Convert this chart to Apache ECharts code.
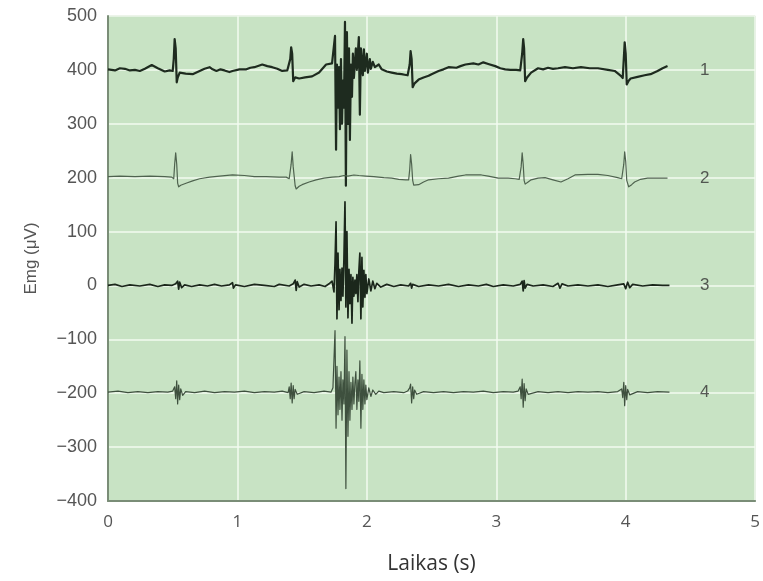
<!DOCTYPE html>
<html>
<head>
<meta charset="utf-8">
<script src="https://cdn.jsdelivr.net/npm/echarts@6/dist/echarts.min.js"></script>
<style>
  html, body { margin: 0; padding: 0; background: #ffffff; }
  #chart { width: 763px; height: 581px; }
</style>
</head>
<body>
<div id="chart"></div>
<script>
// EMG recordings, four channels: [time (s), amplitude (µV)]
const trace1 = [[0.000,401],[0.054,399],[0.092,403],[0.131,402],[0.169,399],[0.208,400],[0.246,398],[0.285,402],[0.338,409],[0.385,403],[0.438,397],[0.477,399],[0.500,398],[0.508,420],[0.515,457],[0.523,440],[0.531,377],[0.538,385],[0.554,395],[0.600,393],[0.654,392],[0.708,398],[0.746,402],[0.785,405],[0.808,401],[0.838,398],[0.869,401],[0.900,399],[0.938,396],[0.962,398],[1.015,401],[1.069,401],[1.100,404],[1.131,405],[1.192,410],[1.231,407],[1.269,405],[1.308,402],[1.346,398],[1.385,399],[1.400,400],[1.408,420],[1.415,442],[1.423,430],[1.431,379],[1.446,386],[1.477,384],[1.523,386],[1.577,388],[1.631,395],[1.685,410],[1.731,412],[1.746,415],[1.754,463],[1.762,252],[1.769,410],[1.777,330],[1.785,405],[1.792,290],[1.800,420],[1.808,300],[1.815,380],[1.823,330],[1.831,489],[1.838,185],[1.846,470],[1.854,300],[1.862,440],[1.869,270],[1.877,410],[1.885,350],[1.892,430],[1.900,385],[1.915,440],[1.923,400],[1.938,461],[1.946,317],[1.954,440],[1.969,390],[1.977,438],[1.985,398],[2.000,430],[2.008,395],[2.023,420],[2.031,402],[2.046,415],[2.062,405],[2.092,410],[2.115,401],[2.154,397],[2.192,395],[2.231,393],[2.269,392],[2.292,391],[2.315,390],[2.331,410],[2.338,435],[2.346,420],[2.354,368],[2.369,375],[2.400,382],[2.438,386],[2.477,389],[2.500,392],[2.554,398],[2.592,401],[2.631,405],[2.692,404],[2.723,407],[2.762,410],[2.823,412],[2.862,410],[2.900,414],[2.938,411],[2.992,407],[3.031,403],[3.069,401],[3.108,400],[3.154,400],[3.185,399],[3.200,430],[3.208,457],[3.215,440],[3.223,379],[3.238,386],[3.269,395],[3.323,403],[3.362,401],[3.400,404],[3.438,402],[3.477,403],[3.531,405],[3.592,403],[3.654,405],[3.723,403],[3.785,403],[3.862,400],[3.915,398],[3.946,392],[3.962,389],[3.977,385],[3.985,420],[3.992,451],[4.000,430],[4.008,373],[4.023,380],[4.038,384],[4.092,387],[4.146,390],[4.192,392],[4.246,398],[4.285,403],[4.323,407]];

const trace2 = [[0.000,202],[0.092,203],[0.208,202],[0.323,203],[0.438,202],[0.492,201],[0.508,198],[0.515,225],[0.523,246],[0.531,225],[0.538,190],[0.546,183],[0.562,186],[0.608,190],[0.654,194],[0.708,198],[0.785,201],[0.862,203],[0.962,205],[1.054,204],[1.131,202],[1.223,202],[1.323,201],[1.377,201],[1.400,198],[1.415,225],[1.423,248],[1.431,220],[1.446,185],[1.454,179],[1.477,184],[1.500,187],[1.554,192],[1.608,196],[1.669,199],[1.731,201],[1.785,202],[1.823,204],[1.838,206],[1.854,203],[1.900,205],[1.938,204],[1.992,203],[2.054,202],[2.131,200],[2.192,199],[2.246,197],[2.300,196],[2.323,196],[2.331,215],[2.338,243],[2.346,225],[2.354,195],[2.362,186],[2.377,183],[2.400,187],[2.438,192],[2.477,196],[2.554,198],[2.631,199],[2.708,203],[2.762,205],[2.823,205],[2.885,205],[2.938,203],[3.015,199],[3.092,199],[3.146,198],[3.177,197],[3.192,220],[3.200,246],[3.208,225],[3.215,195],[3.223,188],[3.246,192],[3.269,196],[3.323,199],[3.377,200],[3.438,196],[3.500,192],[3.554,198],[3.608,205],[3.708,206],[3.785,206],[3.862,204],[3.938,200],[3.969,198],[3.985,225],[3.992,248],[4.000,230],[4.008,195],[4.023,183],[4.046,187],[4.069,192],[4.115,197],[4.169,199],[4.246,199],[4.323,199]];

const trace3 = [[0.000,0],[0.054,2],[0.108,-2],[0.169,1],[0.246,-1],[0.323,2],[0.385,-2],[0.438,1],[0.492,0],[0.523,3],[0.538,8],[0.546,-7],[0.554,6],[0.569,-4],[0.592,1],[0.646,-2],[0.708,1],[0.769,-1],[0.823,2],[0.877,-1],[0.938,1],[0.962,5],[0.969,-5],[0.985,1],[1.054,-2],[1.131,2],[1.208,0],[1.285,-2],[1.323,2],[1.400,-1],[1.431,3],[1.446,10],[1.454,-9],[1.462,7],[1.477,-3],[1.515,2],[1.569,-1],[1.631,1],[1.677,-2],[1.708,3],[1.731,8],[1.746,-12],[1.754,40],[1.762,118],[1.769,-62],[1.777,60],[1.785,-45],[1.792,30],[1.800,-28],[1.808,32],[1.815,-20],[1.823,50],[1.831,155],[1.838,-40],[1.846,100],[1.854,-60],[1.862,30],[1.869,-34],[1.877,20],[1.885,-70],[1.892,15],[1.900,-20],[1.908,10],[1.915,-15],[1.923,20],[1.931,-30],[1.938,25],[1.946,60],[1.954,-62],[1.962,52],[1.969,-40],[1.977,28],[1.985,-22],[1.992,20],[2.000,-15],[2.015,12],[2.031,-10],[2.046,8],[2.062,-6],[2.077,4],[2.108,-3],[2.154,2],[2.208,-2],[2.262,1],[2.323,-1],[2.338,4],[2.346,-5],[2.354,2],[2.400,-2],[2.477,1],[2.554,-1],[2.631,2],[2.708,-2],[2.785,1],[2.862,-1],[2.923,2],[2.977,-2],[3.054,1],[3.131,-1],[3.185,2],[3.200,8],[3.208,-10],[3.215,9],[3.223,-5],[3.238,2],[3.285,-1],[3.362,1],[3.438,-2],[3.477,4],[3.492,-5],[3.508,3],[3.554,-1],[3.631,1],[3.708,-1],[3.785,1],[3.862,-2],[3.938,1],[3.985,3],[4.000,-6],[4.015,6],[4.031,-4],[4.054,2],[4.131,-1],[4.208,1],[4.285,0],[4.338,0]];

const trace4 = [[0.000,-198],[0.077,-196],[0.154,-199],[0.231,-197],[0.308,-199],[0.385,-197],[0.462,-198],[0.500,-196],[0.515,-188],[0.523,-210],[0.531,-177],[0.538,-220],[0.546,-185],[0.554,-212],[0.562,-192],[0.577,-204],[0.600,-197],[0.669,-199],[0.746,-196],[0.823,-199],[0.900,-197],[0.977,-198],[1.054,-196],[1.131,-199],[1.208,-197],[1.285,-198],[1.346,-196],[1.392,-199],[1.400,-188],[1.408,-210],[1.415,-181],[1.423,-218],[1.431,-186],[1.438,-210],[1.446,-193],[1.462,-202],[1.515,-197],[1.592,-199],[1.669,-196],[1.723,-198],[1.738,-190],[1.754,-84],[1.762,-265],[1.769,-150],[1.777,-240],[1.785,-170],[1.792,-230],[1.800,-160],[1.808,-250],[1.815,-175],[1.823,-220],[1.831,-95],[1.838,-377],[1.846,-120],[1.854,-280],[1.862,-160],[1.869,-250],[1.877,-180],[1.885,-230],[1.892,-170],[1.900,-220],[1.908,-180],[1.915,-160],[1.923,-230],[1.931,-175],[1.938,-215],[1.946,-140],[1.954,-265],[1.962,-165],[1.969,-230],[1.977,-175],[1.985,-220],[1.992,-185],[2.000,-212],[2.015,-190],[2.031,-206],[2.046,-194],[2.069,-202],[2.092,-196],[2.131,-199],[2.208,-197],[2.285,-199],[2.315,-196],[2.331,-190],[2.338,-183],[2.346,-218],[2.354,-188],[2.362,-210],[2.369,-194],[2.385,-202],[2.438,-197],[2.515,-199],[2.592,-197],[2.669,-199],[2.746,-197],[2.823,-198],[2.900,-196],[2.977,-199],[3.054,-197],[3.131,-198],[3.169,-196],[3.185,-188],[3.192,-210],[3.200,-174],[3.208,-226],[3.215,-182],[3.223,-214],[3.231,-192],[3.246,-202],[3.323,-197],[3.400,-199],[3.477,-197],[3.554,-199],[3.631,-197],[3.708,-198],[3.785,-197],[3.862,-199],[3.938,-197],[3.969,-192],[3.977,-208],[3.985,-180],[3.992,-223],[4.000,-186],[4.008,-212],[4.015,-193],[4.031,-203],[4.092,-197],[4.169,-199],[4.246,-197],[4.338,-198]];

// Channel numbers written to the right of each trace
const channelNames = ['1', '2', '3', '4'];
const channelLabelTime = 4.61;
const channelLabelLevels = [400, 198, 0, -198];

const xTicks = { min: 0, max: 5, interval: 1 };
const yTicks = { min: -400, max: 500, interval: 100 };

const chart = echarts.init(document.getElementById('chart'), null, { renderer: 'canvas' });

const traceStyles = [
  { color: '#1e2b1f', width: 2.2 },
  { color: '#4f634f', width: 1.2 },
  { color: '#1b271b', width: 1.7 },
  { color: '#3e503e', width: 1.2 }
];
const traces = [trace1, trace2, trace3, trace4];

const series = traces.map((d, i) => ({
  type: 'line',
  data: d,
  showSymbol: false,
  symbol: 'none',
  silent: true,
  animation: false,
  lineStyle: { color: traceStyles[i].color, width: traceStyles[i].width, join: 'round' },
  z: 3 + i
}));

series.push({
  type: 'scatter',
  symbolSize: 0,
  silent: true,
  animation: false,
  data: channelNames.map((n, i) => [channelLabelTime, channelLabelLevels[i], n]),
  label: {
    show: true,
    position: 'inside',
    formatter: p => p.value[2],
    fontFamily: 'Liberation Sans, Arial, sans-serif',
    fontSize: 17,
    color: '#333333'
  },
  z: 10
});

chart.setOption({
  animation: false,
  backgroundColor: '#ffffff',
  grid: {
    left: 108, right: 5, top: 16, bottom: 80,
    show: true,
    backgroundColor: '#c8e3c4',
    borderColor: '#aabfa7',
    borderWidth: 1
  },
  xAxis: {
    type: 'value',
    min: xTicks.min, max: xTicks.max, interval: xTicks.interval,
    name: 'Laikas (s)',
    nameLocation: 'middle',
    nameGap: 53,
    nameTextStyle: { fontFamily: 'Open Sans, sans-serif', fontSize: 21, color: '#333333' },
    axisLine: { show: true, onZero: false, lineStyle: { color: '#7a8d77', width: 2 } },
    axisTick: { show: false },
    axisLabel: { fontFamily: 'Open Sans, sans-serif', fontSize: 17, color: '#555555', margin: 13 },
    splitLine: { show: true, lineStyle: { color: '#f3fbf1', width: 1.5 } }
  },
  yAxis: {
    type: 'value',
    min: yTicks.min, max: yTicks.max, interval: yTicks.interval,
    name: 'Emg (\u03bcV)',
    nameLocation: 'middle',
    nameGap: 68,
    nameTextStyle: { fontFamily: 'Liberation Sans, Arial, sans-serif', fontSize: 17, color: '#555555' },
    axisLine: { show: true, onZero: false, lineStyle: { color: '#7a8d77', width: 2 } },
    axisTick: { show: false },
    axisLabel: {
      fontFamily: 'Liberation Sans, Arial, sans-serif',
      fontSize: 18,
      color: '#555555',
      margin: 11,
      formatter: v => String(v).replace('-', '\u2212')
    },
    splitLine: { show: true, lineStyle: { color: '#f3fbf1', width: 1.5 } }
  },
  series: series
});
</script>
</body>
</html>
